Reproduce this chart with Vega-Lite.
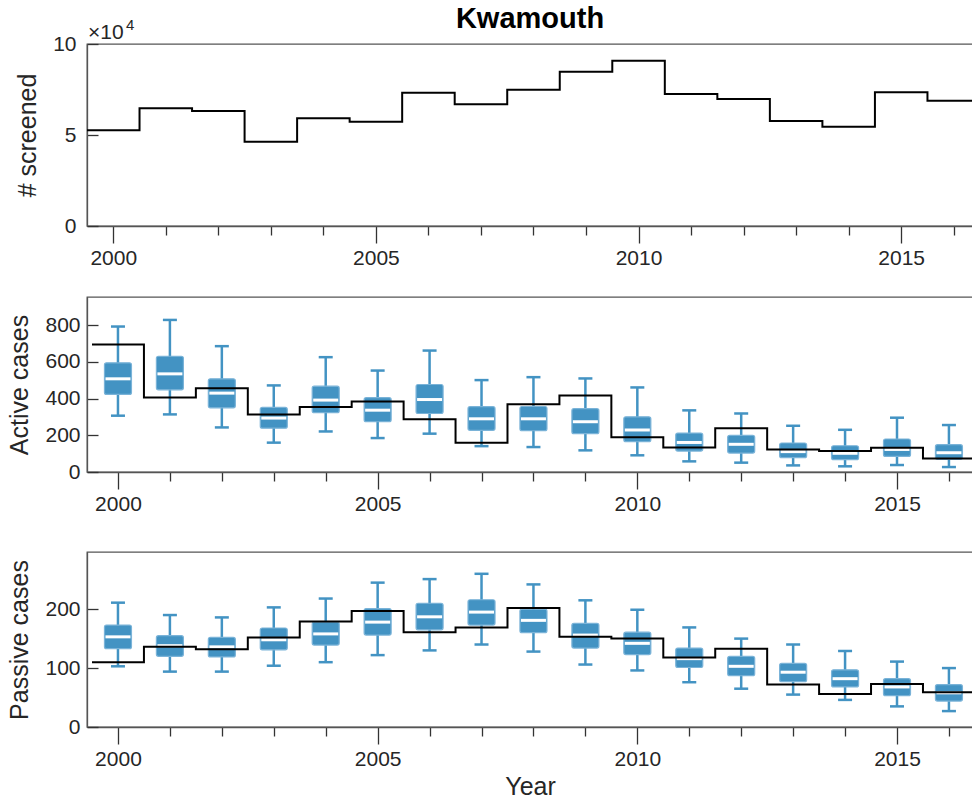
{
  "$schema": "https://vega.github.io/schema/vega-lite/v6.json",
  "background": "white",
  "padding": {"left": 7, "top": 4, "right": 0, "bottom": 0},
  "config": {
    "font": "Liberation Sans",
    "view": {"stroke": "#555555", "strokeWidth": 1.3},
    "axis": {
      "labelFont": "Liberation Sans", "labelFontSize": 21, "labelColor": "#262626",
      "titleFont": "Liberation Sans", "titleFontSize": 25, "titleFontWeight": "normal", "titleColor": "#262626",
      "domainColor": "#555555", "domainWidth": 1.3, "tickColor": "#333333", "tickWidth": 1.3, "grid": false,
      "labelOverlap": false, "labelFlush": false
    }
  },
  "datasets": {
    "steps": [
      {"edge": 1999.5, "scr": 52600, "act": 695, "pas": 110},
      {"edge": 2000.5, "scr": 64700, "act": 406, "pas": 136},
      {"edge": 2001.5, "scr": 63200, "act": 457, "pas": 132},
      {"edge": 2002.5, "scr": 46300, "act": 314, "pas": 152},
      {"edge": 2003.5, "scr": 59200, "act": 354, "pas": 179},
      {"edge": 2004.5, "scr": 57300, "act": 385, "pas": 197},
      {"edge": 2005.5, "scr": 73200, "act": 287, "pas": 161},
      {"edge": 2006.5, "scr": 66900, "act": 160, "pas": 169},
      {"edge": 2007.5, "scr": 74900, "act": 370, "pas": 202},
      {"edge": 2008.5, "scr": 84800, "act": 417, "pas": 153},
      {"edge": 2009.5, "scr": 90800, "act": 190, "pas": 150},
      {"edge": 2010.5, "scr": 72500, "act": 134, "pas": 118},
      {"edge": 2011.5, "scr": 69800, "act": 238, "pas": 133},
      {"edge": 2012.5, "scr": 57700, "act": 122, "pas": 72},
      {"edge": 2013.5, "scr": 54600, "act": 114, "pas": 56},
      {"edge": 2014.5, "scr": 73500, "act": 132, "pas": 73},
      {"edge": 2015.5, "scr": 68800, "act": 73, "pas": 59},
      {"edge": 2016.5, "scr": 68800, "act": 73, "pas": 59}
    ],
    "boxes": [
      {"year": 2000, "a_lo": 307, "a_q1": 423, "a_med": 508, "a_q3": 595, "a_hi": 793, "p_lo": 103, "p_q1": 133, "p_med": 153, "p_q3": 173, "p_hi": 211},
      {"year": 2001, "a_lo": 314, "a_q1": 448, "a_med": 535, "a_q3": 631, "a_hi": 829, "p_lo": 94, "p_q1": 120, "p_med": 138, "p_q3": 155, "p_hi": 190},
      {"year": 2002, "a_lo": 243, "a_q1": 350, "a_med": 430, "a_q3": 508, "a_hi": 686, "p_lo": 94, "p_q1": 119, "p_med": 136, "p_q3": 152, "p_hi": 186},
      {"year": 2003, "a_lo": 160, "a_q1": 239, "a_med": 294, "a_q3": 352, "a_hi": 472, "p_lo": 104, "p_q1": 131, "p_med": 148, "p_q3": 168, "p_hi": 203},
      {"year": 2004, "a_lo": 221, "a_q1": 323, "a_med": 392, "a_q3": 468, "a_hi": 626, "p_lo": 110, "p_q1": 139, "p_med": 158, "p_q3": 178, "p_hi": 218},
      {"year": 2005, "a_lo": 185, "a_q1": 274, "a_med": 337, "a_q3": 405, "a_hi": 553, "p_lo": 122, "p_q1": 156, "p_med": 178, "p_q3": 201, "p_hi": 245},
      {"year": 2006, "a_lo": 209, "a_q1": 319, "a_med": 395, "a_q3": 477, "a_hi": 662, "p_lo": 130, "p_q1": 165, "p_med": 187, "p_q3": 210, "p_hi": 251},
      {"year": 2007, "a_lo": 141, "a_q1": 227, "a_med": 290, "a_q3": 356, "a_hi": 501, "p_lo": 140, "p_q1": 173, "p_med": 195, "p_q3": 216, "p_hi": 260},
      {"year": 2008, "a_lo": 136, "a_q1": 225, "a_med": 290, "a_q3": 357, "a_hi": 517, "p_lo": 128, "p_q1": 160, "p_med": 181, "p_q3": 200, "p_hi": 242},
      {"year": 2009, "a_lo": 118, "a_q1": 209, "a_med": 274, "a_q3": 345, "a_hi": 510, "p_lo": 106, "p_q1": 134, "p_med": 156, "p_q3": 176, "p_hi": 215},
      {"year": 2010, "a_lo": 91, "a_q1": 165, "a_med": 229, "a_q3": 301, "a_hi": 461, "p_lo": 96, "p_q1": 123, "p_med": 142, "p_q3": 161, "p_hi": 199},
      {"year": 2011, "a_lo": 58, "a_q1": 114, "a_med": 161, "a_q3": 212, "a_hi": 336, "p_lo": 76, "p_q1": 101, "p_med": 116, "p_q3": 134, "p_hi": 169},
      {"year": 2012, "a_lo": 51, "a_q1": 103, "a_med": 151, "a_q3": 200, "a_hi": 319, "p_lo": 65, "p_q1": 87, "p_med": 103, "p_q3": 120, "p_hi": 150},
      {"year": 2013, "a_lo": 36, "a_q1": 78, "a_med": 111, "a_q3": 158, "a_hi": 252, "p_lo": 55, "p_q1": 77, "p_med": 93, "p_q3": 108, "p_hi": 140},
      {"year": 2014, "a_lo": 31, "a_q1": 67, "a_med": 102, "a_q3": 143, "a_hi": 230, "p_lo": 46, "p_q1": 68, "p_med": 82, "p_q3": 97, "p_hi": 129},
      {"year": 2015, "a_lo": 38, "a_q1": 85, "a_med": 123, "a_q3": 180, "a_hi": 296, "p_lo": 35, "p_q1": 53, "p_med": 68, "p_q3": 82, "p_hi": 111},
      {"year": 2016, "a_lo": 27, "a_q1": 69, "a_med": 105, "a_q3": 149, "a_hi": 256, "p_lo": 27, "p_q1": 44, "p_med": 58, "p_q3": 72, "p_hi": 100}
    ]
  },
  "spacing": 27,
  "vconcat": [
    {
      "width": 886, "height": 182,
      "title": {"text": "Kwamouth", "fontSize": 29, "fontWeight": "bold", "color": "#000000", "anchor": "middle", "frame": "group", "offset": -16, "font": "Liberation Sans"},
      "layer": [
        {
          "data": {"name": "steps"},
          "mark": {"type": "line", "interpolate": "step-after", "color": "#000000", "strokeWidth": 2, "clip": true},
          "encoding": {
            "x": {"field": "edge", "type": "quantitative", "title": null, "scale": {"domain": [1999.5, 2016.367], "nice": false, "zero": false},
              "axis": {"values": [2000,2001,2002,2003,2004,2005,2006,2007,2008,2009,2010,2011,2012,2013,2014,2015,2016], "format": "d",
                "labelExpr": "datum.value % 5 === 0 ? datum.label : ''",
                "tickSize": {"condition": {"test": "datum.value % 5 === 0", "value": 17}, "value": 9}, "labelPadding": 4}},
            "y": {"field": "scr", "type": "quantitative", "title": "# screened", "scale": {"domain": [0, 100000], "nice": false},
              "axis": {"values": [0, 50000, 100000], "labelExpr": "format(datum.value / 10000, 'd')", "tickSize": -11, "labelPadding": 22, "titlePadding": 12}}
          }
        },
        {
          "data": {"values": [{}]},
          "mark": {"type": "text", "align": "left", "baseline": "alphabetic", "fontSize": 21, "dx": 1, "dy": -5, "color": "#262626", "font": "Liberation Sans"},
          "encoding": {
            "x": {"datum": 1999.5, "type": "quantitative", "title": null},
            "y": {"datum": 100000, "type": "quantitative", "title": "# screened"},
            "text": {"value": "×10"}
          }
        },
        {
          "data": {"values": [{}]},
          "mark": {"type": "text", "align": "left", "baseline": "alphabetic", "fontSize": 15, "dx": 39, "dy": -14, "color": "#262626", "font": "Liberation Sans"},
          "encoding": {
            "x": {"datum": 1999.5, "type": "quantitative", "title": null},
            "y": {"datum": 100000, "type": "quantitative", "title": "# screened"},
            "text": {"value": "4"}
          }
        }
      ]
    },
    {
      "spacing": 36,
      "vconcat": [
        {
          "width": 886, "height": 175,
          "layer": [
            {
              "data": {"name": "boxes"},
              "mark": {"type": "rule", "color": "#4393c3", "strokeWidth": 2.5},
              "encoding": {
                "x": {"field": "year", "type": "quantitative", "title": null, "scale": {"domain": [1999.5, 2016.367], "nice": false, "zero": false},
                  "axis": {"values": [2000,2001,2002,2003,2004,2005,2006,2007,2008,2009,2010,2011,2012,2013,2014,2015,2016], "format": "d",
                    "labelExpr": "datum.value % 5 === 0 ? datum.label : ''",
                    "tickSize": {"condition": {"test": "datum.value % 5 === 0", "value": 17}, "value": 9}, "labelPadding": 4}},
                "y": {"field": "a_lo", "type": "quantitative", "title": "Active cases", "scale": {"domain": [0, 954], "nice": false},
                  "axis": {"values": [0, 200, 400, 600, 800], "tickSize": -11, "labelPadding": 18, "titlePadding": 12}},
                "y2": {"field": "a_hi"}
              }
            },
            {
              "data": {"name": "boxes"},
              "mark": {"type": "tick", "orient": "horizontal", "color": "#4393c3", "size": 14, "thickness": 2.5, "opacity": 1},
              "encoding": {
                "x": {"field": "year", "type": "quantitative", "title": null},
                "y": {"field": "a_lo", "type": "quantitative", "title": "Active cases"}
              }
            },
            {
              "data": {"name": "boxes"},
              "mark": {"type": "tick", "orient": "horizontal", "color": "#4393c3", "size": 14, "thickness": 2.5, "opacity": 1},
              "encoding": {
                "x": {"field": "year", "type": "quantitative", "title": null},
                "y": {"field": "a_hi", "type": "quantitative", "title": "Active cases"}
              }
            },
            {
              "data": {"name": "boxes"},
              "mark": {"type": "bar", "width": 27, "fill": "#4393c3", "stroke": "#7ab3d8", "strokeWidth": 1.2, "cornerRadius": 2},
              "encoding": {
                "x": {"field": "year", "type": "quantitative", "title": null},
                "y": {"field": "a_q1", "type": "quantitative", "title": "Active cases"},
                "y2": {"field": "a_q3"}
              }
            },
            {
              "data": {"name": "boxes"},
              "mark": {"type": "tick", "orient": "horizontal", "color": "#ffffff", "size": 25, "thickness": 3, "opacity": 1},
              "encoding": {
                "x": {"field": "year", "type": "quantitative", "title": null},
                "y": {"field": "a_med", "type": "quantitative", "title": "Active cases"}
              }
            },
            {
              "data": {"name": "steps"},
              "mark": {"type": "line", "interpolate": "step-after", "color": "#000000", "strokeWidth": 2, "clip": true},
              "encoding": {
                "x": {"field": "edge", "type": "quantitative", "title": null},
                "y": {"field": "act", "type": "quantitative", "title": "Active cases"}
              }
            }
          ]
        },
        {
          "width": 886, "height": 175,
          "layer": [
            {
              "data": {"name": "boxes"},
              "mark": {"type": "rule", "color": "#4393c3", "strokeWidth": 2.5},
              "encoding": {
                "x": {"field": "year", "type": "quantitative", "title": "Year", "scale": {"domain": [1999.5, 2016.367], "nice": false, "zero": false},
                  "axis": {"values": [2000,2001,2002,2003,2004,2005,2006,2007,2008,2009,2010,2011,2012,2013,2014,2015,2016], "format": "d", "titlePadding": 5,
                    "labelExpr": "datum.value % 5 === 0 ? datum.label : ''",
                    "tickSize": {"condition": {"test": "datum.value % 5 === 0", "value": 17}, "value": 9}, "labelPadding": 4}},
                "y": {"field": "p_lo", "type": "quantitative", "title": "Passive cases", "scale": {"domain": [0, 297], "nice": false},
                  "axis": {"values": [0, 100, 200], "tickSize": -11, "labelPadding": 18, "titlePadding": 12}},
                "y2": {"field": "p_hi"}
              }
            },
            {
              "data": {"name": "boxes"},
              "mark": {"type": "tick", "orient": "horizontal", "color": "#4393c3", "size": 14, "thickness": 2.5, "opacity": 1},
              "encoding": {
                "x": {"field": "year", "type": "quantitative", "title": "Year"},
                "y": {"field": "p_lo", "type": "quantitative", "title": "Passive cases"}
              }
            },
            {
              "data": {"name": "boxes"},
              "mark": {"type": "tick", "orient": "horizontal", "color": "#4393c3", "size": 14, "thickness": 2.5, "opacity": 1},
              "encoding": {
                "x": {"field": "year", "type": "quantitative", "title": "Year"},
                "y": {"field": "p_hi", "type": "quantitative", "title": "Passive cases"}
              }
            },
            {
              "data": {"name": "boxes"},
              "mark": {"type": "bar", "width": 27, "fill": "#4393c3", "stroke": "#7ab3d8", "strokeWidth": 1.2, "cornerRadius": 2},
              "encoding": {
                "x": {"field": "year", "type": "quantitative", "title": "Year"},
                "y": {"field": "p_q1", "type": "quantitative", "title": "Passive cases"},
                "y2": {"field": "p_q3"}
              }
            },
            {
              "data": {"name": "boxes"},
              "mark": {"type": "tick", "orient": "horizontal", "color": "#ffffff", "size": 25, "thickness": 3, "opacity": 1},
              "encoding": {
                "x": {"field": "year", "type": "quantitative", "title": "Year"},
                "y": {"field": "p_med", "type": "quantitative", "title": "Passive cases"}
              }
            },
            {
              "data": {"name": "steps"},
              "mark": {"type": "line", "interpolate": "step-after", "color": "#000000", "strokeWidth": 2, "clip": true},
              "encoding": {
                "x": {"field": "edge", "type": "quantitative", "title": "Year"},
                "y": {"field": "pas", "type": "quantitative", "title": "Passive cases"}
              }
            }
          ]
        }
      ]
    }
  ]
}
